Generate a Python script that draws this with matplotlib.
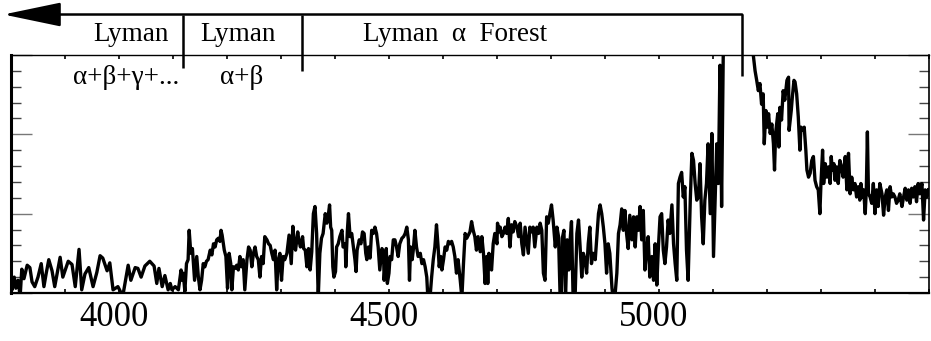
import numpy as np
import matplotlib
matplotlib.use("Agg")
import matplotlib.pyplot as plt
import matplotlib.transforms as mtransforms
from matplotlib.patches import FancyArrowPatch
from matplotlib.ticker import FixedLocator, MultipleLocator

plt.rcParams["font.family"] = ["Liberation Serif", "DejaVu Serif"]

# spectrum: wavelength (A) / flux
wave_1 = [3800, 3802, 3806, 3809, 3813, 3817, 3820, 3824, 3830, 3835,
          3839, 3844, 3850, 3856, 3861, 3865, 3870, 3876, 3881, 3891,
          3896, 3906, 3913, 3919, 3926, 3931, 3937, 3944, 3952, 3959,
          3965, 3970, 3978, 3983, 3989, 3998, 4007, 4017, 4022, 4030,
          4035, 4041, 4048, 4057, 4065, 4070, 4074, 4080, 4085, 4091]
flux_1 = [0.6, 0.2, 1.0, 0.3, 0.8, -0.2, 1.5, 0.9, 1.75, 1.6,
          0.7, 0.4, 1.0, 1.85, 0.4, 1.2, 2.1, 1.4, 0.4, 2.25,
          1.0, 2.0, 1.8, 0.4, 2.75, 0.2, 1.2, 1.6, 0.4, 1.3,
          2.35, 2.2, 1.4, 1.9, 0.2, 0.4, -0.2, 1.75, 0.8, 1.6,
          1.55, 1.0, 1.7, 2.0, 1.7, 0.6, 1.55, 0.4, 1.1, 0.2]

wave_2 = [4095, 4098, 4104, 4110, 4115, 4117, 4119, 4122, 4125, 4128,
          4130, 4133, 4136, 4140, 4144, 4147, 4150, 4153, 4156, 4159,
          4162, 4165, 4169, 4172, 4175, 4178, 4181, 4184, 4187, 4189,
          4191, 4195, 4198, 4201, 4204, 4207, 4209, 4212, 4215, 4218,
          4221, 4224, 4227, 4230, 4233, 4237, 4240, 4243, 4246, 4249,
          4252, 4255, 4258, 4261, 4264, 4267, 4270, 4274, 4277, 4280,
          4283, 4286, 4289, 4292, 4295, 4298, 4301, 4304, 4307, 4311,
          4315, 4319, 4322, 4325, 4327, 4331, 4333, 4336, 4340, 4342,
          4345, 4348, 4351, 4354, 4357, 4360, 4363, 4366, 4369, 4372,
          4375, 4378]
flux_2 = [0.6, 0.2, 0.4, 0.2, 1.45, 0.8, 1.25, 0.1, 1.85, 2.1,
          3.95, 2.5, 2.8, 0.8, 2.3, 1.0, 0.2, 0.8, 1.85, 1.65,
          2.0, 2.1, 2.7, 2.4, 3.1, 2.9, 3.35, 3.45, 3.25, 3.95,
          3.65, 2.7, 2.3, 0.3, 2.5, 1.85, 0.2, 1.65, 1.55, 1.75,
          1.45, 2.3, 1.65, 2.1, 0.2, 2.1, 2.9, 2.7, 1.65, 2.5,
          2.9, 2.3, 2.1, 1.0, 2.3, 1.85, 3.55, 3.35, 3.1, 3.0,
          2.5, 2.1, 2.7, 0.2, 2.1, 2.5, 0.8, 2.3, 2.1, 2.5,
          3.65, 1.85, 4.2, 2.9, 2.7, 3.85, 3.35, 2.9, 3.55, 2.8,
          2.7, 1.65, 2.8, 1.45, 2.6, 5.0, 5.45, 3.75, -0.3, 2.5,
          3.45, 3.75]

wave_3 = [4382, 4385, 4388, 4390, 4392, 4394, 4396, 4398, 4401, 4403,
          4406, 4409, 4413, 4415, 4419, 4420, 4423, 4425, 4428, 4431,
          4434, 4437, 4439, 4441, 4445, 4448, 4451, 4454, 4457, 4459,
          4462, 4465, 4468, 4471, 4474, 4477, 4480, 4483, 4487, 4490,
          4491, 4495, 4497, 4500, 4502, 4505, 4508, 4511, 4514, 4517,
          4520, 4524, 4527, 4530, 4533, 4536, 4538, 4540, 4543, 4545,
          4548, 4551, 4554, 4558, 4561, 4564, 4567, 4570, 4572, 4576,
          4579, 4582, 4585, 4588, 4591, 4593, 4596, 4598, 4601, 4604,
          4607, 4610, 4613, 4616, 4619, 4622, 4625, 4628, 4632, 4635,
          4638, 4641, 4644, 4647, 4650, 4653, 4656, 4659, 4662]
flux_3 = [5.0, 4.4, 5.0, 5.55, 4.15, 3.95, 1.65, 1.0, 1.35, 2.9,
          3.1, 3.55, 3.95, 2.9, 3.1, 1.65, 3.95, 5.0, 3.55, 3.75,
          2.9, 2.1, 1.35, 2.7, 3.35, 3.1, 3.85, 3.75, 2.5, 2.1,
          2.9, 2.2, 3.95, 3.75, 4.15, 3.75, 2.9, 1.45, 2.8, 2.5,
          0.8, 2.8, 0.6, 1.25, 2.3, 2.1, 3.35, 3.35, 2.9, 2.3,
          3.1, 3.45, 3.55, 3.75, 4.15, 3.35, 0.8, 2.9, 2.1, 2.7,
          3.95, 2.9, 2.3, 2.5, 1.85, 2.1, 1.65, 1.0, -0.3, -0.3,
          1.0, 2.1, 2.9, 4.3, 2.9, 1.65, 2.3, 1.45, 2.1, 2.9,
          2.7, 3.25, 3.1, 3.25, 2.9, 2.3, 1.25, 2.1, 0.8, -0.3,
          1.85, 3.75, 3.45, 3.65, 3.85, 4.5, 3.95, 3.55, 2.7]

wave_4 = [4665, 4669, 4672, 4675, 4678, 4681, 4683, 4685, 4688, 4690,
          4693, 4696, 4700, 4701, 4704, 4706, 4709, 4712, 4715, 4718,
          4721, 4724, 4727, 4730, 4733, 4737, 4740, 4743, 4746, 4749,
          4752, 4755, 4758, 4761, 4764, 4767, 4770, 4774, 4777, 4780,
          4783, 4786, 4789, 4792, 4795, 4798, 4801, 4804, 4808, 4811,
          4814, 4817, 4819, 4821, 4824, 4827, 4830, 4833, 4835, 4838,
          4841, 4845, 4848, 4851, 4854, 4857, 4860, 4863, 4866, 4869,
          4872, 4875, 4878, 4882, 4885, 4888, 4891, 4894, 4897, 4900,
          4903, 4906, 4909, 4913, 4915, 4919, 4922, 4925, 4928, 4931,
          4934, 4937, 4940, 4943, 4946, 4950]
flux_4 = [3.55, 2.6, 3.55, 2.5, 0.6, 2.3, 0.6, 2.5, 1.65, 1.45,
          3.1, 3.75, 3.1, 4.4, 3.85, 4.15, 3.55, 3.75, 4.15, 3.75,
          4.7, 2.9, 4.3, 3.85, 4.5, 4.15, 3.55, 4.4, 3.1, 2.4,
          4.15, 3.35, 2.5, 4.15, 3.85, 4.15, 2.9, 4.15, 3.75, 4.4,
          3.95, 1.25, 0.8, 4.8, 4.4, 5.0, 5.55, 4.6, 2.9, 4.15,
          3.55, -0.3, -0.3, 3.45, 3.95, -0.3, 3.35, 1.45, 3.1, 4.5,
          -0.3, 0.1, 3.75, 4.6, 2.9, 1.0, 2.5, 2.1, 1.25, 3.1,
          4.15, 1.85, 2.5, 2.1, 3.55, 5.0, 5.55, 5.0, 4.15, 3.1,
          1.25, 3.1, 2.5, 0.3, -0.3, 0.0, 1.25, 3.75, 4.3, 5.3,
          3.95, 5.2, 3.75, 2.8, 4.9, 3.35]

wave_5 = [4953, 4956, 4959, 4962, 4965, 4968, 4971, 4974, 4977, 4980,
          4983, 4987, 4990, 4993, 4996, 4999, 5002, 5005, 5008, 5011,
          5014, 5017, 5020, 5024, 5027, 5030, 5033, 5036, 5039, 5042,
          5045, 5048, 5051, 5054, 5058, 5061, 5064, 5067, 5070, 5073,
          5076, 5079, 5082, 5085, 5088, 5091, 5095, 5098, 5101, 5104,
          5107, 5110, 5113, 5116, 5119, 5128, 5141, 5159, 5175, 5178,
          5181, 5184, 5187, 5190, 5193, 5195, 5198, 5201, 5203, 5206,
          5209, 5212, 5214, 5216]
flux_5 = [4.8, 2.9, 4.8, 3.95, 5.45, 3.35, 5.2, 1.45, 2.7, 3.55,
          1.0, 2.3, 0.8, 3.1, 0.5, 2.9, 4.8, 5.0, 2.7, 1.85,
          2.9, 4.6, 3.75, 5.55, 3.1, 1.85, 0.8, 6.9, 7.3, 7.6,
          6.05, 6.7, 2.7, 0.8, 5.85, 8.8, 8.35, 6.9, 5.85, 6.05,
          8.15, 4.8, 3.1, 5.85, 6.9, 9.4, 5.0, 10.05, 2.3, 5.85,
          9.4, 6.9, 14.35, 5.45, 14.9, 17.0, 19.0, 18.0, 14.9, 14.0,
          13.4, 12.75, 13.2, 11.9, 12.55, 9.4, 11.5, 10.45, 11.3, 10.05,
          10.65, 9.4, 7.75, 10.05]

wave_6 = [5220, 5222, 5224, 5227, 5230, 5233, 5237, 5240, 5241, 5245,
          5247, 5250, 5252, 5255, 5258, 5261, 5263, 5266, 5269, 5272,
          5274, 5277, 5280, 5283, 5286, 5289, 5292, 5295, 5298, 5300,
          5303, 5305, 5308, 5311, 5314, 5317, 5319, 5321, 5324, 5326,
          5329, 5332, 5335, 5338, 5341, 5345, 5348, 5351, 5354, 5357,
          5360, 5363, 5366, 5369, 5372, 5374, 5377, 5379, 5382, 5384,
          5386, 5388, 5391, 5394, 5397, 5400, 5403, 5406, 5409, 5413,
          5416, 5419, 5422, 5425, 5428, 5431, 5434, 5437, 5440, 5443,
          5446, 5450, 5453, 5456, 5459, 5462, 5465, 5468, 5471, 5474,
          5477, 5480, 5483, 5487, 5490, 5493, 5496, 5499]
flux_6 = [11.3, 9.2, 11.7, 10.9, 12.75, 12.15, 13.4, 13.6, 10.25, 11.5,
          12.35, 13.4, 13.3, 12.55, 11.1, 9.0, 10.45, 10.25, 10.45, 9.0,
          7.75, 7.3, 7.55, 8.35, 8.6, 7.1, 6.7, 6.5, 5.0, 6.9,
          9.0, 6.9, 8.15, 7.3, 7.95, 6.9, 8.6, 7.75, 8.15, 7.1,
          7.95, 6.9, 8.35, 7.95, 7.3, 8.6, 6.5, 8.8, 6.25, 7.3,
          6.5, 6.9, 6.05, 6.7, 5.85, 6.9, 6.05, 6.5, 5.0, 6.5,
          10.15, 6.25, 6.05, 5.65, 6.9, 5.0, 6.5, 5.45, 6.9, 6.25,
          4.9, 6.05, 6.5, 5.2, 6.7, 6.05, 6.25, 6.05, 5.65, 5.85,
          6.25, 5.45, 6.05, 6.6, 5.85, 6.5, 5.65, 6.6, 6.05, 6.7,
          5.75, 6.9, 6.25, 6.9, 4.6, 6.5, 6.05, 6.5]

xticks = [4000, 4500, 5000]

# region borders drawn above the spectrum (A)
LYG_EDGE = 4118
LYB_EDGE = 4339
LYA_EDGE = 5154

wave = np.concatenate([wave_1, wave_2, wave_3, wave_4, wave_5, wave_6])
flux = np.concatenate([flux_1, flux_2, flux_3, flux_4, flux_5, flux_6])

fig = plt.figure(figsize=(9.31, 3.41), dpi=100)
ax = fig.add_axes([0.0118, 0.1408, 0.986, 0.698])

ax.plot(wave, flux, color="black", lw=2.4)
ax.set_xlim(3800, 5500)
ax.set_ylim(0, 15)

# x ticks, small and inward on both sides
ax.xaxis.set_major_locator(FixedLocator(xticks))
ax.xaxis.set_minor_locator(MultipleLocator(100))
ax.tick_params(axis="x", which="both", direction="in", top=True, bottom=True,
               length=3, width=1.2, labelsize=25, pad=6)

# y ticks without labels, on both sides
ax.yaxis.set_major_locator(MultipleLocator(5))
ax.yaxis.set_minor_locator(MultipleLocator(1))
ax.tick_params(axis="y", which="major", direction="in", left=True, right=True,
               length=15, width=1.0, color="#777777", labelleft=False)
ax.tick_params(axis="y", which="minor", direction="in", left=True, right=True,
               length=7.5, width=1.0, color="#444444")

ax.spines["left"].set_linewidth(2.2)
ax.spines["bottom"].set_linewidth(1.6)
ax.spines["top"].set_linewidth(1.0)
ax.spines["right"].set_linewidth(1.2)

# labels sit a little left of their ticks in the original
shift = mtransforms.ScaledTranslation(-0.05, 0, fig.dpi_scale_trans)
for lab in ax.get_xticklabels():
    lab.set_transform(lab.get_transform() + shift)

# Lyman region brackets above the plot
TOP = 17.55
kw = dict(color="black", lw=1.8, clip_on=False, solid_capstyle="butt")
ax.plot([LYG_EDGE, LYG_EDGE], [TOP, 14.15], **kw)
ax.plot([LYB_EDGE, LYB_EDGE], [TOP, 14.0], **kw)
ax.plot([LYA_EDGE, LYA_EDGE], [TOP + 0.05, 13.65], **kw)
arrow = FancyArrowPatch((LYA_EDGE, TOP), (3786, TOP),
                        arrowstyle="-|>,head_length=36,head_width=7.5",
                        mutation_scale=1, color="black", lw=1.8,
                        shrinkA=0, shrinkB=0, clip_on=False)
ax.add_patch(arrow)

ax.text(4022, 16.3, "Lyman", ha="center", va="center", fontsize=19.5)
ax.text(4013, 13.6, "α+β+γ+...", ha="center", va="center", fontsize=19.5)
ax.text(4220, 16.3, "Lyman", ha="center", va="center", fontsize=19.5)
ax.text(4228, 13.6, "α+β", ha="center", va="center", fontsize=19.5)
ax.text(4622, 16.3, "Lyman  α  Forest", ha="center", va="center", fontsize=19.5)

fig.savefig("out.png", dpi=100)
